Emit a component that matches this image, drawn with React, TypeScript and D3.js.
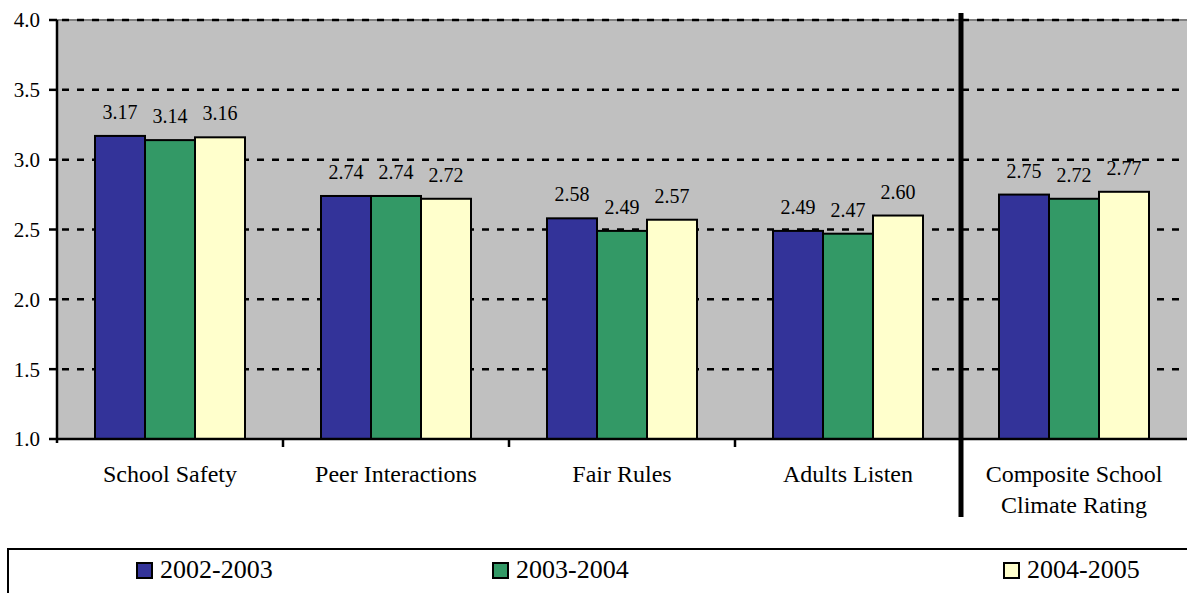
import React from "react";
import * as d3 from "d3";

const categories: string[][] = [
  ["School Safety"],
  ["Peer Interactions"],
  ["Fair Rules"],
  ["Adults Listen"],
  ["Composite School", "Climate Rating"],
];
const seriesNames = ["2002-2003", "2003-2004", "2004-2005"];
const values2002 = [3.17, 2.74, 2.58, 2.49, 2.75];
const values2003 = [3.14, 2.74, 2.49, 2.47, 2.72];
const values2004 = [3.16, 2.72, 2.57, 2.6, 2.77];
const yTicks = [1.0, 1.5, 2.0, 2.5, 3.0, 3.5, 4.0];
const colors = ["#333399", "#339966", "#FFFFCC"];

const W = 1187;
const H = 593;
const FONT = "Liberation Serif";

const ts = (size: number) => ({ fontFamily: FONT, fontSize: size + "px" });

export default function App() {
  const series = [values2002, values2003, values2004];
  const left = 57;
  const right = 1187;
  const top = 20;
  const bottom = 439;

  const x = d3.scaleBand<number>().domain(d3.range(categories.length)).range([left, right]).padding(0);
  const bw = x.bandwidth();
  const groupPad = 38;
  const xs = d3.scaleBand<number>().domain(d3.range(series.length)).range([groupPad, bw - groupPad]).padding(0);
  const y = d3.scaleLinear().domain([1, 4]).range([bottom, top]);

  const dividerX = x(4)!;
  const legendX = [137, 493, 1004];

  return (
    <svg width={W} height={H} style={{ position: "absolute", left: 0, top: 0, background: "#fff" }}>
      <rect x={left} y={top} width={right - left} height={bottom - top} fill="#C0C0C0" />
      <line x1={left} x2={right} y1={top} y2={top} stroke="#808080" strokeWidth={2} />
      {yTicks.filter((t) => t > 1).map((t) => (
        <line key={t} x1={left} x2={right} y1={y(t)} y2={y(t)} stroke="#000" strokeWidth={2.5}
          strokeDasharray="7,8" strokeDashoffset={10} />
      ))}
      {categories.map((c, i) =>
        series.map((s, j) => {
          const bx = x(i)! + xs(j)!;
          return (
            <rect key={`${i}-${j}`} x={bx} y={y(s[i])} width={xs.bandwidth()} height={bottom - y(s[i])}
              fill={colors[j]} stroke="#000" strokeWidth={2} />
          );
        })
      )}
      {categories.map((c, i) =>
        series.map((s, j) => (
          <text key={`l${i}-${j}`} style={ts(20)} x={x(i)! + xs(j)! + xs.bandwidth() / 2} y={y(s[i]) - 17} textAnchor="middle"
            fill="#000">{s[i].toFixed(2)}</text>
        ))
      )}
      <line x1={left} x2={left} y1={top} y2={bottom + 4} stroke="#000" strokeWidth={2.5} />
      <line x1={left} x2={right} y1={bottom} y2={bottom} stroke="#000" strokeWidth={2.5} />
      {yTicks.map((t) => (
        <g key={`t${t}`}>
          <line x1={left - 8} x2={left} y1={y(t)} y2={y(t)} stroke="#000" strokeWidth={2.5} />
          <text style={ts(21)} x={40} y={y(t)} dy="0.35em" textAnchor="end" fill="#000">{t.toFixed(1)}</text>
        </g>
      ))}
      {d3.range(1, categories.length).map((i) => (
        <line key={`bt${i}`} x1={x(i)!} x2={x(i)!} y1={bottom} y2={bottom + 8} stroke="#000" strokeWidth={2.5} />
      ))}
      {categories.map((c, i) => (
        <text key={`c${i}`} style={ts(24)} x={x(i)! + bw / 2} y={482} textAnchor="middle" fill="#000">
          {c.map((line, k) => (
            <tspan key={k} x={x(i)! + bw / 2} dy={k === 0 ? 0 : 31}>{line}</tspan>
          ))}
        </text>
      ))}
      <line x1={dividerX} x2={dividerX} y1={13} y2={517} stroke="#000" strokeWidth={5} />
      <rect x={8} y={549} width={W + 10} height={60} fill="#fff" stroke="#000" strokeWidth={2} />
      {seriesNames.map((n, j) => (
        <g key={n}>
          <rect x={legendX[j]} y={563} width={15} height={15} fill={colors[j]} stroke="#000" strokeWidth={2} />
          <text style={ts(26)} x={legendX[j] + 23} y={578} fill="#000">{n}</text>
        </g>
      ))}
    </svg>
  );
}
